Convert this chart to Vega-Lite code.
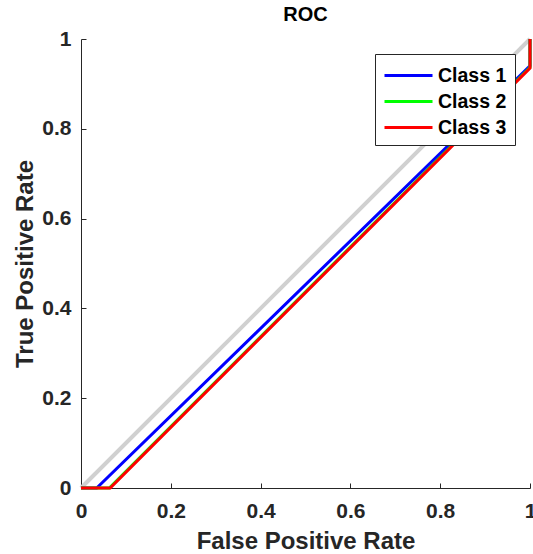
{
  "$schema": "https://vega.github.io/schema/vega-lite/v6.json",
  "width": 449,
  "height": 449,
  "autosize": {"type": "none"},
  "padding": {"left": 81, "top": 39, "right": 3, "bottom": 66},
  "background": "white",
  "title": {"text": "ROC", "offset": 3, "anchor": "middle"},
  "config": {
    "view": {"stroke": null},
    "font": "Liberation Sans",
    "title": {"font": "Liberation Sans", "fontSize": 20, "fontWeight": "bold", "color": "#000000"},
    "axis": {
      "grid": false,
      "domainColor": "#262626",
      "domainWidth": 1,
      "tickColor": "#262626",
      "tickSize": -5,
      "labelFlush": false,
      "labelFont": "Liberation Sans",
      "labelFontSize": 21,
      "labelFontWeight": "bold",
      "labelColor": "#262626",
      "titleFont": "Liberation Sans",
      "titleFontSize": 24,
      "titleFontWeight": "bold",
      "titleColor": "#262626"
    }
  },
  "datasets": {
    "ref": [
      {"fpr": 0, "tpr": 0},
      {"fpr": 1, "tpr": 1}
    ],
    "roc": [
      {"cls": "Class 1", "ord": 1, "fpr": 0, "tpr": 0},
      {"cls": "Class 1", "ord": 2, "fpr": 0.035, "tpr": 0},
      {"cls": "Class 1", "ord": 3, "fpr": 1, "tpr": 0.94},
      {"cls": "Class 1", "ord": 4, "fpr": 1, "tpr": 1},
      {"cls": "Class 2", "ord": 1, "fpr": 0, "tpr": 0},
      {"cls": "Class 2", "ord": 2, "fpr": 0.063, "tpr": 0},
      {"cls": "Class 2", "ord": 3, "fpr": 1, "tpr": 0.937},
      {"cls": "Class 2", "ord": 4, "fpr": 1, "tpr": 1},
      {"cls": "Class 3", "ord": 1, "fpr": 0, "tpr": 0},
      {"cls": "Class 3", "ord": 2, "fpr": 0.065, "tpr": 0},
      {"cls": "Class 3", "ord": 3, "fpr": 1, "tpr": 0.935},
      {"cls": "Class 3", "ord": 4, "fpr": 1, "tpr": 1}
    ]
  },
  "layer": [
    {
      "data": {"name": "ref"},
      "mark": {"type": "line", "color": "#d0d0d0", "strokeWidth": 4, "clip": false},
      "encoding": {
        "x": {"field": "fpr", "type": "quantitative"},
        "y": {"field": "tpr", "type": "quantitative"}
      }
    },
    {
      "data": {"name": "roc"},
      "mark": {"type": "line", "strokeWidth": 3, "clip": false},
      "encoding": {
        "x": {
          "field": "fpr", "type": "quantitative",
          "scale": {"domain": [0, 1], "nice": false, "zero": false},
          "axis": {"values": [0, 0.2, 0.4, 0.6, 0.8, 1], "format": "~g", "title": "False Positive Rate", "labelPadding": 17, "titlePadding": 8}
        },
        "y": {
          "field": "tpr", "type": "quantitative",
          "scale": {"domain": [0, 1], "nice": false, "zero": false},
          "axis": {"values": [0, 0.2, 0.4, 0.6, 0.8, 1], "format": "~g", "title": "True Positive Rate", "labelPadding": 15, "titlePadding": 4}
        },
        "color": {
          "field": "cls", "type": "nominal",
          "scale": {"domain": ["Class 1", "Class 2", "Class 3"], "range": ["#0000ff", "#00ff00", "#ff0000"]},
          "legend": {
            "title": null,
            "orient": "top-right",
            "offset": 15,
            "symbolType": "M-1,0H3",
            "symbolSize": 576,
            "symbolStrokeWidth": 3,
            "labelFont": "Liberation Sans",
            "labelFontSize": 19.5,
            "labelFontWeight": "bold",
            "labelColor": "#000000",
            "labelOffset": 28,
            "rowPadding": 3,
            "padding": 8,
            "fillColor": "white",
            "strokeColor": "#262626"
          }
        },
        "order": {"field": "ord", "type": "quantitative"}
      }
    }
  ]
}
